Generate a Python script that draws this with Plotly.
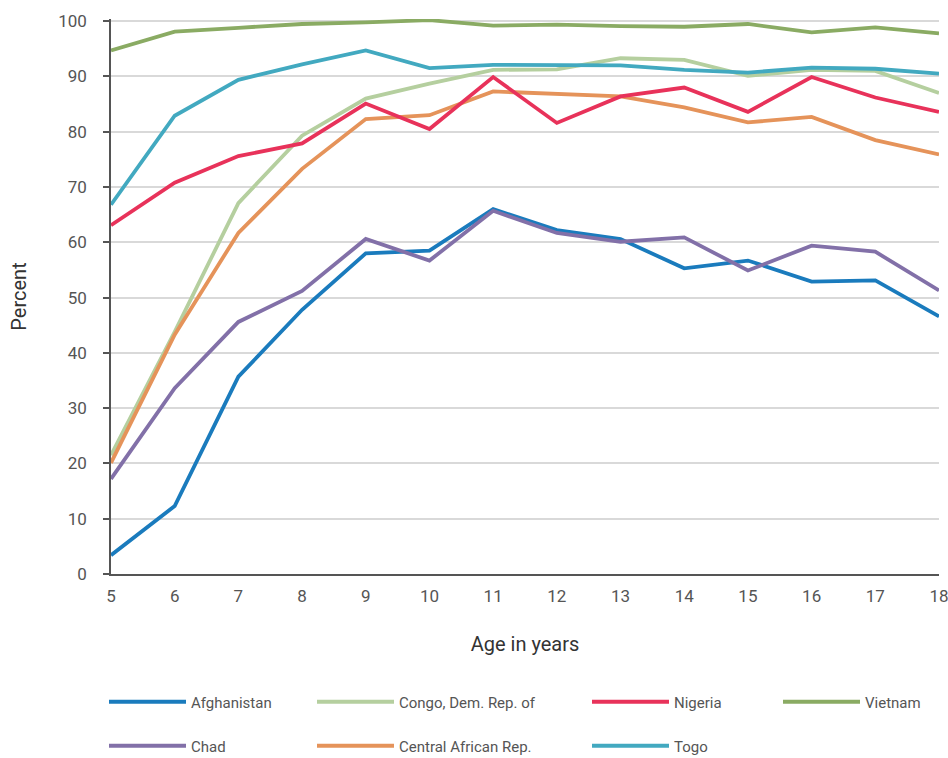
import plotly.graph_objects as go

ages = list(range(5, 19))
tick_marks = [5, 7.6, 10.2, 12.8, 15.4, 18]
y_ticks = [0, 10, 20, 30, 40, 50, 60, 70, 80, 90, 100]

afghanistan = [3.4, 12.3, 35.7, 47.8, 58.0, 58.5, 66.0, 62.2, 60.6, 55.3, 56.7, 52.9, 53.1, 46.6]
chad = [17.2, 33.6, 45.6, 51.2, 60.6, 56.7, 65.7, 61.7, 60.1, 60.9, 54.9, 59.4, 58.3, 51.3]
congo = [21.5, 43.8, 67.1, 79.3, 86.0, 88.7, 91.2, 91.3, 93.3, 93.0, 90.1, 91.2, 91.0, 87.0]
car = [20.1, 43.3, 61.7, 73.3, 82.3, 83.0, 87.3, 86.9, 86.4, 84.4, 81.7, 82.7, 78.5, 75.9]
nigeria = [63.1, 70.8, 75.6, 77.9, 85.1, 80.5, 89.9, 81.6, 86.4, 88.0, 83.6, 89.9, 86.2, 83.6]
togo = [66.8, 82.9, 89.4, 92.2, 94.7, 91.5, 92.1, 92.0, 92.0, 91.2, 90.7, 91.6, 91.4, 90.5]
vietnam = [94.7, 98.1, 98.8, 99.5, 99.8, 100.2, 99.2, 99.4, 99.1, 99.0, 99.5, 98.0, 98.9, 97.8]

series = [
    ("Afghanistan", afghanistan, "#1a7bbd", "legend", 109, 702),
    ("Chad", chad, "#8270a8", "legend2", 109, 746),
    ("Congo, Dem. Rep. of", congo, "#b5cf9f", "legend3", 317, 702),
    ("Central African Rep.", car, "#e5935a", "legend4", 317, 746),
    ("Nigeria", nigeria, "#e8325a", "legend5", 592, 702),
    ("Togo", togo, "#42a9c0", "legend6", 592, 746),
    ("Vietnam", vietnam, "#8aab63", "legend7", 783, 702),
]

W, H = 948, 758
ML, MR, MT, MB = 111, 9, 19, 184
PW, PH = W - ML - MR, H - MT - MB

fig = go.Figure()
legends = {}
for name, vals, color, leg, lx, ly in series:
    fig.add_trace(go.Scatter(
        x=ages, y=vals, name=name, mode="lines",
        line=dict(color=color, width=3.8),
        legend=leg, hoverinfo="x+y+name",
    ))
    legends[leg] = dict(
        x=(lx - 5 - ML) / PW, y=(H - MB - ly) / PH,
        xanchor="left", yanchor="middle",
        itemwidth=77, font=dict(family="Roboto", size=15, color="#555555"),
        bgcolor="rgba(0,0,0,0)", borderwidth=0,
    )

axis_color = "#555555"
fig.update_layout(
    width=W, height=H,
    margin=dict(l=ML, r=MR, t=MT, b=MB, autoexpand=False),
    paper_bgcolor="white", plot_bgcolor="white",
    font=dict(family="Roboto", color=axis_color),
    showlegend=True,
    xaxis=dict(
        range=[5, 18], tickvals=ages, ticktext=[str(a) for a in ages],
        ticks="", showgrid=False, zeroline=False,
        showline=True, linecolor=axis_color, linewidth=1.5,
        tickfont=dict(size=17, color=axis_color), ticklabelstandoff=6,
        ticklabeloverflow="allow",
        title=dict(text="Age in years", font=dict(size=20, color="#333333"), standoff=32),
    ),
    xaxis2=dict(
        range=[5, 18], overlaying="x", anchor="y", side="bottom",
        tickvals=tick_marks, ticks="outside", ticklen=7, tickwidth=1.5,
        tickcolor=axis_color, showticklabels=False, showgrid=False,
        zeroline=False, showline=False,
    ),
    yaxis=dict(
        range=[0, 100.4], tickvals=y_ticks,
        ticks="outside", ticklen=6, tickwidth=1.5, tickcolor=axis_color,
        showgrid=True, gridcolor="#d9d9d9", gridwidth=1.5, zeroline=False,
        showline=True, linecolor=axis_color, linewidth=1.5,
        tickfont=dict(size=17, color=axis_color), ticklabelstandoff=13,
        title=dict(text="Percent", font=dict(size=20, color="#333333"), standoff=26),
    ),
    **legends,
)

fig.write_html("out.html", config={"displayModeBar": False},
               post_script="document.body.style.margin='0px';")
